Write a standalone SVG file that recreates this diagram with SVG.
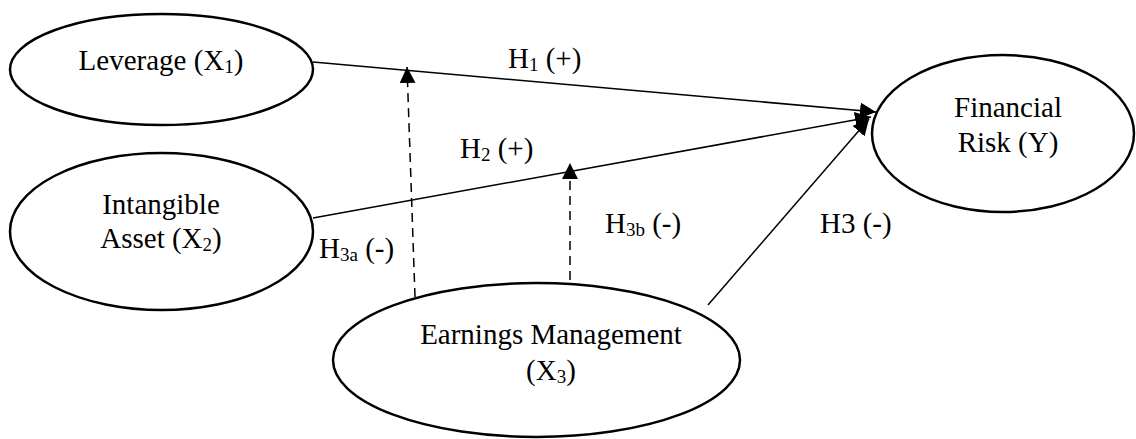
<svg xmlns="http://www.w3.org/2000/svg" width="1136" height="439" viewBox="0 0 1136 439">
<style>
.node{fill:#fff;stroke:#000;stroke-width:2.5}
.t{font-family:"Liberation Serif","Times New Roman",serif;font-size:29px;fill:#000}
.sub{font-size:19px}
.c{stroke:#000;stroke-width:1.5;fill:none}
.d{stroke-dasharray:9,6}
</style>
<defs>
<marker id="ah" markerUnits="userSpaceOnUse" markerWidth="18" markerHeight="16" refX="16" refY="8" orient="auto">
<path d="M0,0 L16,8 L0,16 Z" fill="#000"/>
</marker>
</defs>
<rect width="1136" height="439" fill="#fff"/>
<g id="connectors">
<line class="c" x1="313" y1="62" x2="876" y2="112" marker-end="url(#ah)"/>
<line class="c" x1="313" y1="218" x2="871" y2="117" marker-end="url(#ah)"/>
<line class="c" x1="708" y1="305" x2="869" y2="119" marker-end="url(#ah)"/>
<line class="c d" x1="415" y1="297" x2="407" y2="67" marker-end="url(#ah)"/>
<line class="c d" x1="570" y1="280" x2="570" y2="163" marker-end="url(#ah)"/>
<text class="t" x="508" y="68">H<tspan class="sub" dy="3">1</tspan><tspan dy="-3"> (+)</tspan></text>
<text class="t" x="460" y="158">H<tspan class="sub" dy="3">2</tspan><tspan dy="-3"> (+)</tspan></text>
<text class="t" x="319" y="258">H<tspan class="sub" dy="3">3a</tspan><tspan dy="-3"> (-)</tspan></text>
<text class="t" x="605" y="233">H<tspan class="sub" dy="3">3b</tspan><tspan dy="-3"> (-)</tspan></text>
<text class="t" x="820" y="233">H3 (-)</text>
</g>
<g id="leverage">
<ellipse class="node" cx="161.5" cy="69.5" rx="151.5" ry="55.5"/>
<text class="t" x="161" y="70" text-anchor="middle">Leverage (X<tspan class="sub" dy="3">1</tspan><tspan dy="-3">)</tspan></text>
</g>
<g id="intangible">
<ellipse class="node" cx="161.5" cy="231.5" rx="151.5" ry="78.5"/>
<text class="t" x="161" y="214" text-anchor="middle">Intangible</text>
<text class="t" x="161" y="248" text-anchor="middle">Asset (X<tspan class="sub" dy="3">2</tspan><tspan dy="-3">)</tspan></text>
</g>
<g id="financial">
<ellipse class="node" cx="1003" cy="133.5" rx="131" ry="78.5"/>
<text class="t" x="1008" y="117" text-anchor="middle">Financial</text>
<text class="t" x="1008" y="152" text-anchor="middle">Risk (Y)</text>
</g>
<g id="earnings">
<ellipse class="node" cx="536.5" cy="360" rx="203.5" ry="77"/>
<text class="t" x="551" y="344" text-anchor="middle">Earnings Management</text>
<text class="t" x="551" y="380" text-anchor="middle">(X<tspan class="sub" dy="3">3</tspan><tspan dy="-3">)</tspan></text>
</g>
</svg>
